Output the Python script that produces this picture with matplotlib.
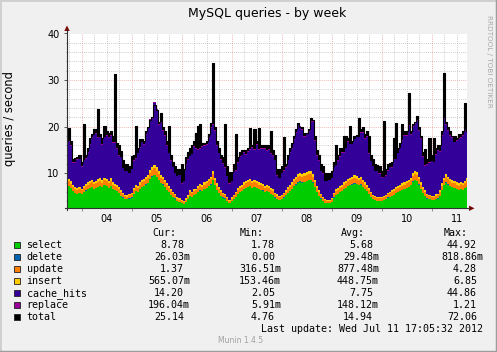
import numpy as np
import matplotlib.pyplot as plt
from matplotlib.patches import Rectangle, Polygon
from matplotlib.lines import Line2D

W, H = 497, 352

# hourly samples, first one is Jul 3 17:00, last one Jul 11 17:00
day_labels = ['04', '05', '06', '07', '08', '09', '10', '11']

select = [7.0, 7.2, 6.8, 6.2, 5.8, 5.6, 5.7,
          5.5, 5.9, 6.3, 6.6, 6.8, 7.0, 6.7, 6.9, 7.1, 7.3, 7.0, 7.4, 7.2, 6.9, 7.3, 6.6, 6.4, 6.2, 5.8, 5.2, 4.8, 4.5, 4.4, 4.6,
          4.8, 5.6, 6.2, 6.0, 6.6, 7.0, 7.2, 7.6, 7.9, 8.8, 9.3, 9.6, 9.2, 8.6, 7.9, 7.6, 7.0, 6.5, 6.0, 5.4, 5.0, 4.6, 4.0, 3.8,
          3.6, 3.4, 3.8, 4.4, 5.2, 5.0, 5.4, 5.5, 6.0, 6.3, 6.2, 6.6, 6.8, 7.2, 7.6, 8.6, 7.4, 6.4, 5.8, 5.2, 4.8, 4.6, 4.0, 3.6,
          4.0, 4.4, 5.0, 5.6, 6.0, 6.2, 6.6, 6.8, 7.0, 7.2, 6.9, 7.0, 6.8, 6.6, 6.5, 6.3, 6.0, 6.2, 6.0, 5.6, 5.4, 4.8, 4.5, 4.2,
          4.4, 4.8, 5.3, 5.8, 6.2, 6.6, 7.2, 7.6, 8.0, 8.2, 8.0, 8.2, 8.4, 8.5, 8.6, 8.0, 7.0, 6.0, 5.2, 4.6, 4.0, 3.7, 3.6, 3.6,
          3.9, 4.8, 5.4, 5.6, 6.0, 6.2, 6.6, 6.9, 7.2, 7.4, 7.6, 7.8, 7.7, 7.4, 7.6, 7.0, 6.6, 6.2, 5.6, 5.0, 4.4, 4.2, 4.0, 4.1,
          4.0, 4.2, 4.4, 4.8, 5.0, 5.2, 5.4, 5.8, 6.0, 6.2, 6.4, 6.6, 6.8, 7.0, 7.4, 8.2, 8.6, 8.4, 7.6, 6.6, 5.8, 5.2, 4.6, 4.4,
          4.2, 4.3, 4.5, 4.6, 5.2, 6.4, 7.4, 8.0, 7.6, 7.2, 7.0, 6.8, 6.6, 6.4, 6.7, 6.5, 6.8, 7.0]

delete = [0.03, 0.03, 0.02, 0.03, 0.03, 0.02, 0.02,
          0.02, 0.02, 0.02, 0.03, 0.03, 0.04, 0.03, 0.04, 0.04, 0.04, 0.03, 0.04, 0.04, 0.03, 0.04, 0.03, 0.03, 0.03, 0.03, 0.02, 0.02, 0.02, 0.02, 0.02,
          0.02, 0.03, 0.03, 0.03, 0.03, 0.04, 0.04, 0.04, 0.04, 0.05, 0.05, 0.05, 0.05, 0.04, 0.04, 0.04, 0.04, 0.03, 0.03, 0.03, 0.02, 0.02, 0.02, 0.02,
          0.02, 0.01, 0.02, 0.02, 0.03, 0.02, 0.03, 0.03, 0.03, 0.03, 0.03, 0.03, 0.04, 0.04, 0.04, 0.05, 0.04, 0.03, 0.03, 0.03, 0.02, 0.02, 0.02, 0.02,
          0.02, 0.02, 0.02, 0.03, 0.03, 0.03, 0.03, 0.04, 0.04, 0.04, 0.04, 0.04, 0.03, 0.03, 0.03, 0.03, 0.03, 0.03, 0.03, 0.03, 0.03, 0.02, 0.02, 0.02,
          0.02, 0.02, 0.03, 0.03, 0.03, 0.03, 0.04, 0.04, 0.04, 0.05, 0.04, 0.04, 0.05, 0.05, 0.05, 0.04, 0.04, 0.03, 0.03, 0.02, 0.02, 0.02, 0.02, 0.02,
          0.02, 0.02, 0.03, 0.03, 0.03, 0.03, 0.03, 0.04, 0.04, 0.04, 0.04, 0.04, 0.04, 0.04, 0.04, 0.04, 0.03, 0.03, 0.03, 0.02, 0.02, 0.02, 0.02, 0.02,
          0.02, 0.02, 0.02, 0.02, 0.03, 0.03, 0.03, 0.03, 0.03, 0.03, 0.04, 0.04, 0.04, 0.04, 0.04, 0.05, 0.05, 0.05, 0.04, 0.04, 0.03, 0.03, 0.02, 0.02,
          0.02, 0.02, 0.02, 0.02, 0.03, 0.03, 0.04, 0.04, 0.04, 0.04, 0.03, 0.03, 0.03, 0.03, 0.03, 0.03, 0.03, 0.03]

update = [1.0, 1.05, 0.95, 0.9, 0.85, 0.8, 0.85,
          0.8, 0.85, 0.9, 0.95, 1.0, 1.05, 0.95, 1.0, 1.05, 1.1, 1.0, 1.1, 1.05, 1.0, 1.1, 0.95, 0.9, 0.9, 0.85, 0.75, 0.7, 0.6, 0.6, 0.65,
          0.7, 0.8, 0.9, 0.85, 0.95, 1.0, 1.05, 1.1, 1.15, 1.3, 1.35, 1.4, 1.35, 1.25, 1.15, 1.1, 1.0, 0.95, 0.85, 0.8, 0.7, 0.65, 0.55, 0.55,
          0.5, 0.5, 0.55, 0.6, 0.75, 0.7, 0.8, 0.8, 0.85, 0.9, 0.9, 0.95, 1.0, 1.05, 1.1, 1.25, 1.1, 0.95, 0.85, 0.75, 0.7, 0.65, 0.6, 0.5,
          0.55, 0.65, 0.7, 0.8, 0.85, 0.9, 0.95, 1.0, 1.0, 1.05, 1.0, 1.0, 1.0, 0.95, 0.95, 0.9, 0.85, 0.9, 0.85, 0.8, 0.8, 0.7, 0.65, 0.6,
          0.65, 0.7, 0.75, 0.85, 0.9, 0.95, 1.05, 1.1, 1.15, 1.2, 1.15, 1.2, 1.2, 1.25, 1.25, 1.15, 1.0, 0.85, 0.75, 0.65, 0.6, 0.55, 0.5, 0.5,
          0.55, 0.7, 0.8, 0.8, 0.85, 0.9, 0.95, 1.0, 1.05, 1.1, 1.1, 1.15, 1.1, 1.1, 1.1, 1.0, 0.95, 0.9, 0.8, 0.7, 0.65, 0.6, 0.6, 0.6,
          0.6, 0.6, 0.65, 0.7, 0.7, 0.75, 0.8, 0.85, 0.85, 0.9, 0.95, 0.95, 1.0, 1.0, 1.1, 1.2, 1.25, 1.2, 1.1, 0.95, 0.85, 0.75, 0.65, 0.65,
          0.6, 0.6, 0.65, 0.65, 0.75, 0.95, 1.1, 1.2, 1.1, 1.05, 1.0, 1.0, 0.95, 0.95, 1.0, 0.95, 1.0, 1.37]

insert = [0.5, 0.52, 0.48, 0.45, 0.42, 0.4, 0.42,
          0.4, 0.42, 0.45, 0.48, 0.5, 0.52, 0.48, 0.5, 0.53, 0.55, 0.5, 0.55, 0.52, 0.5, 0.55, 0.48, 0.45, 0.45, 0.42, 0.38, 0.35, 0.3, 0.3, 0.32,
          0.35, 0.4, 0.45, 0.42, 0.48, 0.5, 0.52, 0.55, 0.58, 0.65, 0.68, 0.7, 0.68, 0.62, 0.58, 0.55, 0.5, 0.48, 0.42, 0.4, 0.35, 0.32, 0.28, 0.28,
          0.25, 0.25, 0.28, 0.3, 0.38, 0.35, 0.4, 0.4, 0.42, 0.45, 0.45, 0.48, 0.5, 0.52, 0.55, 0.62, 0.55, 0.48, 0.42, 0.38, 0.35, 0.32, 0.3, 0.25,
          0.28, 0.32, 0.35, 0.4, 0.42, 0.45, 0.48, 0.5, 0.5, 0.52, 0.5, 0.5, 0.5, 0.48, 0.48, 0.45, 0.42, 0.45, 0.42, 0.4, 0.4, 0.35, 0.32, 0.3,
          0.32, 0.35, 0.38, 0.42, 0.45, 0.48, 0.52, 0.55, 0.58, 0.6, 0.58, 0.6, 0.6, 0.62, 0.62, 0.58, 0.5, 0.42, 0.38, 0.32, 0.3, 0.28, 0.25, 0.25,
          0.28, 0.35, 0.4, 0.4, 0.42, 0.45, 0.48, 0.5, 0.52, 0.55, 0.55, 0.58, 0.55, 0.55, 0.55, 0.5, 0.48, 0.45, 0.4, 0.35, 0.32, 0.3, 0.3, 0.3,
          0.3, 0.3, 0.32, 0.35, 0.35, 0.38, 0.4, 0.42, 0.42, 0.45, 0.48, 0.48, 0.5, 0.5, 0.55, 0.6, 0.62, 0.6, 0.55, 0.48, 0.42, 0.38, 0.32, 0.32,
          0.3, 0.3, 0.32, 0.32, 0.38, 0.48, 0.55, 0.6, 0.55, 0.52, 0.5, 0.5, 0.48, 0.48, 0.5, 0.48, 0.5, 0.57]

cache_hits = [8.1, 7.9, 7.7, 4.6, 5.2, 6.1, 6.0,
              4.7, 5.6, 5.4, 6.4, 7.7, 9.0, 10.0, 10.1, 8.9, 8.7, 7.5, 8.6, 9.3, 9.1, 9.0, 8.5, 8.7, 7.6, 6.7, 7.1, 5.2, 5.0, 5.1, 4.4,
              5.0, 5.9, 5.5, 7.0, 7.4, 8.1, 7.3, 8.9, 10.1, 10.7, 10.2, 13.4, 12.3, 9.9, 11.1, 9.9, 9.5, 8.0, 7.0, 6.1, 5.2, 4.4, 4.5, 4.9,
              3.4, 4.1, 7.2, 7.6, 7.3, 8.0, 9.1, 8.5, 7.8, 7.5, 8.1, 7.9, 7.7, 8.8, 10.4, 9.9, 10.1, 8.1, 7.2, 6.5, 6.2, 5.6, 4.5, 3.4,
              3.5, 5.1, 4.5, 5.4, 6.3, 6.3, 6.4, 5.7, 6.0, 6.3, 7.1, 6.5, 7.7, 6.9, 7.3, 7.5, 8.0, 7.3, 7.8, 7.4, 7.1, 6.9, 4.0, 3.8,
              4.6, 4.7, 4.7, 5.7, 6.8, 7.2, 8.3, 9.4, 10.5, 9.8, 9.5, 7.8, 8.1, 8.5, 10.4, 11.3, 8.5, 6.5, 6.3, 4.9, 5.0, 3.8, 3.9, 4.2,
              4.2, 5.4, 5.1, 5.9, 6.3, 6.8, 6.4, 6.9, 7.9, 7.1, 6.9, 7.7, 8.3, 8.6, 9.4, 10.2, 9.4, 10.3, 7.4, 6.5, 6.1, 5.3, 5.5, 4.9,
              4.1, 4.1, 4.1, 4.7, 5.2, 4.8, 6.3, 5.9, 7.0, 7.8, 9.1, 9.9, 9.7, 11.7, 9.1, 9.8, 10.1, 10.9, 9.9, 9.4, 6.5, 5.3, 6.2, 6.9,
              7.5, 7.2, 8.5, 9.2, 8.3, 10.1, 12.6, 10.5, 9.9, 9.3, 9.0, 8.3, 8.9, 9.6, 9.3, 10.0, 10.7, 10.0]

replace = [0.17, 0.18, 0.16, 0.15, 0.14, 0.14, 0.14,
           0.14, 0.14, 0.15, 0.16, 0.17, 0.18, 0.16, 0.17, 0.18, 0.19, 0.17, 0.19, 0.18, 0.17, 0.19, 0.16, 0.15, 0.15, 0.14, 0.13, 0.12, 0.1, 0.1, 0.11,
           0.12, 0.14, 0.15, 0.14, 0.16, 0.17, 0.18, 0.19, 0.2, 0.22, 0.23, 0.24, 0.23, 0.21, 0.2, 0.19, 0.17, 0.16, 0.14, 0.14, 0.12, 0.11, 0.09, 0.09,
           0.09, 0.08, 0.09, 0.1, 0.13, 0.12, 0.14, 0.14, 0.14, 0.15, 0.15, 0.16, 0.17, 0.18, 0.19, 0.21, 0.19, 0.16, 0.14, 0.13, 0.12, 0.11, 0.1, 0.09,
           0.09, 0.11, 0.12, 0.14, 0.14, 0.15, 0.16, 0.17, 0.17, 0.18, 0.17, 0.17, 0.17, 0.16, 0.16, 0.15, 0.14, 0.15, 0.14, 0.14, 0.14, 0.12, 0.11, 0.1,
           0.11, 0.12, 0.13, 0.14, 0.15, 0.16, 0.18, 0.19, 0.2, 0.2, 0.2, 0.2, 0.2, 0.21, 0.21, 0.2, 0.17, 0.14, 0.13, 0.11, 0.1, 0.09, 0.09, 0.09,
           0.09, 0.12, 0.14, 0.14, 0.14, 0.15, 0.16, 0.17, 0.18, 0.19, 0.19, 0.2, 0.19, 0.19, 0.19, 0.17, 0.16, 0.15, 0.14, 0.12, 0.11, 0.1, 0.1, 0.1,
           0.1, 0.1, 0.11, 0.12, 0.12, 0.13, 0.14, 0.14, 0.14, 0.15, 0.16, 0.16, 0.17, 0.17, 0.19, 0.2, 0.21, 0.2, 0.19, 0.16, 0.14, 0.13, 0.11, 0.11,
           0.1, 0.1, 0.11, 0.11, 0.13, 0.16, 0.19, 0.2, 0.19, 0.18, 0.17, 0.17, 0.16, 0.16, 0.17, 0.16, 0.17, 0.2]

total = [17, 19.8, 17, 13, 13.2, 13.5, 14,
         12.5, 20.6, 14, 15.5, 17.5, 18.5, 19.6, 19.5, 23.8, 18.5, 17.5, 20.2, 19, 18.7, 19, 18, 31.3, 16.5, 16, 14.8, 12.8, 12, 12, 11.5,
         13.8, 14, 20.2, 15.5, 17.4, 17.4, 17, 19, 20, 21.5, 22, 24.7, 23.5, 21, 23, 20, 19, 17, 20.2, 14, 12.5, 11.5, 11, 11,
         12, 11, 13.5, 14.5, 15.5, 16, 17, 18.7, 20.2, 20.6, 16.6, 16.6, 17, 18.5, 20.8, 33.7, 20, 17, 15.5, 14, 13.5, 20.6, 11.5, 10.2,
         10.2, 12, 18.5, 13.5, 14.5, 15, 15, 15, 15.5, 19.8, 16, 19.5, 17, 19.8, 16, 16, 16, 16, 16, 19.1, 15, 14, 11, 11,
         11.5, 17.7, 12, 14, 15.5, 16.5, 18, 19.5, 20.8, 20, 20, 18.7, 18.7, 19.5, 21.9, 21.5, 18, 15, 14, 12, 11.5, 10, 10, 10,
         10.5, 12.5, 16, 14, 15.5, 15.5, 18, 18, 17.5, 20.2, 17, 18, 18.3, 21.9, 19.5, 19.9, 18.5, 19, 18, 14, 13, 12, 11.8, 11.5,
         10.5, 21.3, 11, 12, 12.3, 12.5, 17.5, 20.8, 15.5, 16.5, 20.6, 19, 19, 27.3, 19, 20.5, 21, 22.3, 20, 18, 14.5, 15.3, 13, 17.5,
         14, 17.5, 15.5, 16, 16, 19, 31.5, 21, 20, 19, 18, 18, 17.5, 18.5, 18.5, 19, 25.1, 19]

# legend table
names = ['select', 'delete', 'update', 'insert', 'cache_hits', 'replace', 'total']
cur = ['8.78', '26.03m', '1.37', '565.07m', '14.20', '196.04m', '25.14']
mins = ['1.78', '0.00', '316.51m', '153.46m', '2.05', '5.91m', '4.76']
avgs = ['5.68', '29.48m', '877.48m', '448.75m', '7.75', '148.12m', '14.94']
maxs = ['44.92', '818.86m', '4.28', '6.85', '44.86', '1.21', '72.06']

colors = ['#00CC00', '#0066B3', '#FF8000', '#FFCC00', '#330099', '#990099', '#000000']


def fx(px):
    return px / W


def fy(py):
    return 1 - py / H


fig = plt.figure(figsize=(W / 100, H / 100), dpi=100, facecolor='#F0F0F0')
ax = fig.add_axes([fx(67), fy(208.3), 400 / W, (208.3 - 33.5) / H])
ax.set_facecolor('white')

hours = np.arange(len(total))
ax.set_xlim(0, len(total) - 1)
ax.set_ylim(2.5, 40)

# grid: 6 hours / 2 units minor, 1 day / 10 units major
for v in np.arange(4, 40, 2):
    if v % 10:
        ax.axhline(v, color='#BBBBBB', lw=0.6, ls=(0, (1, 1.5)), zorder=0)
    else:
        ax.axhline(v, color='#E8A0A0', lw=0.6, ls=(0, (1, 1.5)), zorder=0)
for hh in range(1, len(total), 6):
    c = '#E8A0A0' if (hh - 7) % 24 == 0 else '#BBBBBB'
    ax.axvline(hh, color=c, lw=0.6, ls=(0, (1, 1.5)), zorder=0)

series = [select, delete, update, insert, cache_hits, replace]
ax.stackplot(hours, *series, colors=colors[:6], step='mid', lw=0, zorder=2)
top = np.sum(np.array(series), axis=0)
tot = np.array(total)
ax.fill_between(hours, top, np.maximum(tot, top), step='mid', color='black', lw=0, zorder=3)
ax.step(hours, tot, where='mid', color='black', lw=0.8, zorder=4)

for s in ax.spines.values():
    s.set_visible(False)

ax.set_yticks([10, 20, 30, 40])
ax.set_yticks(np.arange(4, 40, 2), minor=True)
ax.set_xticks(19 + 24 * np.arange(len(day_labels)))
ax.set_xticklabels(day_labels)
ax.set_xticks(7 + 24 * np.arange(8), minor=True)
ax.tick_params(axis='y', which='major', length=2, width=0.6, color='#404040', pad=3.5, labelsize=7)
ax.tick_params(axis='y', which='minor', length=1, width=0.6, color='#808080')
ax.tick_params(axis='x', which='major', length=0, pad=4, labelsize=7)
ax.tick_params(axis='x', which='minor', length=2, width=0.6, color='#808080')

# axis lines with arrows
fig.add_artist(Line2D([fx(67), fx(67)], [fy(210), fy(29)], color='#303030', lw=0.8))
fig.add_artist(Line2D([fx(65), fx(470)], [fy(208.3), fy(208.3)], color='#303030', lw=0.8))
fig.add_artist(Polygon([[fx(67), fy(25.5)], [fx(64.3), fy(31)], [fx(69.7), fy(31)]],
                       closed=True, color='#7F0000', lw=0))
fig.add_artist(Polygon([[fx(474.5), fy(208.3)], [fx(469), fy(205.6)], [fx(469), fy(211)]],
                       closed=True, color='#7F0000', lw=0))

# frame shading
fig.add_artist(Line2D([0, 0, 1], [0, 1, 1], color='#CFCFCF', lw=2))
fig.add_artist(Line2D([0, 1, 1], [0, 0, 1], color='#9E9E9E', lw=2.5))

fig.text(fx(267.5), fy(17.5), 'MySQL queries - by week', ha='center', va='baseline', fontsize=9)
fig.text(fx(10), fy(119), 'queries / second', rotation=90, ha='center', va='center', fontsize=8.3)
fig.text(fx(488.5), fy(61.5), 'RRDTOOL / TOBI OETIKER', rotation=270, ha='center', va='center',
         fontsize=5.2, color='#A8A8A8')

mono = 'DejaVu Sans Mono'
fs = 7.2
cw = 6.0
head_right = [176, 264, 365, 468]
col_right = [190, 281, 379, 483]
for hx, lab in zip(head_right, ['Cur:', 'Min:', 'Avg:', 'Max:']):
    fig.text(fx(hx), fy(236), lab, ha='right', va='baseline', family=mono, fontsize=fs)

for i, name in enumerate(names):
    base = 248 + 12 * i
    fig.add_artist(Rectangle((fx(13.5), fy(base)), 6.5 / W, 6.5 / H, facecolor=colors[i],
                             edgecolor='#202020', lw=0.6))
    fig.text(fx(26.5), fy(base), name, ha='left', va='baseline', family=mono, fontsize=fs)
    for xr, col in zip(col_right, [cur, mins, avgs, maxs]):
        s = col[i]
        xe = xr if s.endswith('m') else xr - cw
        fig.text(fx(xe), fy(base), s, ha='right', va='baseline', family=mono, fontsize=fs)

fig.text(fx(483), fy(332), 'Last update: Wed Jul 11 17:05:32 2012', ha='right', va='baseline',
         family=mono, fontsize=fs)
fig.text(fx(241), fy(343), 'Munin 1.4.5', ha='center', va='baseline', fontsize=5.5, color='#A0A0A0')

fig.savefig('out.png', dpi=100, facecolor=fig.get_facecolor())
